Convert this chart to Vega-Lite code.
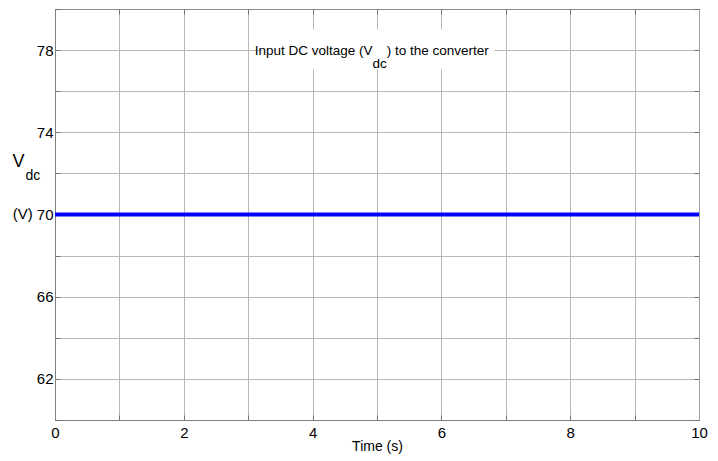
{
  "$schema": "https://vega.github.io/schema/vega-lite/v6.json",
  "width": 644,
  "height": 411,
  "autosize": {"type": "none"},
  "padding": {"left": 55, "top": 9, "right": 19, "bottom": 41},
  "background": "white",
  "config": {
    "view": {"stroke": "#8c8c8c", "strokeWidth": 1},
    "font": "Liberation Sans, Arial, sans-serif"
  },
  "datasets": {
    "vdc": [{"time": 0, "vdc": 70}, {"time": 10, "vdc": 70}],
    "box": [{"x1": 3.207, "x2": 6.824, "y1": 77.06, "y2": 79.0}],
    "titleMain": [{"x": 4.93, "y": 77.74, "label": "Input DC voltage (V"}],
    "titleSub": [{"x": 4.93, "y": 77.12, "label": "dc"}],
    "titleEnd": [{"x": 5.15, "y": 77.74, "label": ") to the converter"}],
    "yMain": [{"x": -0.66, "y": 72.3, "label": "V"}],
    "ySub": [{"x": -0.46, "y": 71.68, "label": "dc"}],
    "yUnit": [{"x": -0.5, "y": 69.76, "label": "(V)"}]
  },
  "layer": [
    {
      "data": {"name": "vdc"},
      "mark": {"type": "line", "color": "#0000ff", "strokeWidth": 4},
      "encoding": {
        "x": {
          "field": "time", "type": "quantitative",
          "scale": {"domain": [0, 10], "nice": false, "zero": false},
          "axis": {
            "orient": "bottom",
            "values": [0, 1, 2, 3, 4, 5, 6, 7, 8, 9, 10],
            "labelExpr": "datum.value % 2 === 0 ? datum.label : ''",
            "labelFlush": false,
            "labelOverlap": false,
            "grid": true, "gridColor": "#b8b8b8", "gridOpacity": 1,
            "tickSize": -5, "tickColor": "#707070",
            "domainColor": "#808080",
            "labelPadding": 10, "labelFontSize": 15, "labelColor": "#000000",
            "title": "Time (s)", "titleFontSize": 14, "titleFontWeight": "normal",
            "titleColor": "#000000", "titleBaseline": "alphabetic", "titleY": 30
          }
        },
        "y": {
          "field": "vdc", "type": "quantitative",
          "scale": {"domain": [60, 80], "nice": false, "zero": false},
          "axis": {
            "orient": "left",
            "values": [60, 62, 64, 66, 68, 70, 72, 74, 76, 78, 80],
            "labelExpr": "(datum.value - 62) % 4 === 0 ? datum.label : ''",
            "labelFlush": false,
            "labelOverlap": false,
            "grid": true, "gridColor": "#b8b8b8", "gridOpacity": 1,
            "tickSize": -5, "tickColor": "#707070",
            "domainColor": "#808080",
            "labelPadding": 7, "labelFontSize": 15, "labelColor": "#000000",
            "title": null
          }
        }
      }
    },
    {
      "data": {"name": "vdc"},
      "mark": {"type": "line", "opacity": 0},
      "encoding": {
        "x": {
          "field": "time", "type": "quantitative",
          "scale": {"domain": [0, 10], "nice": false, "zero": false},
          "axis": {
            "orient": "top",
            "values": [0, 1, 2, 3, 4, 5, 6, 7, 8, 9, 10],
            "labels": false, "grid": false,
            "tickSize": -5, "tickColor": "#707070",
            "domainColor": "#8c8c8c", "title": null
          }
        },
        "y": {
          "field": "vdc", "type": "quantitative",
          "scale": {"domain": [60, 80], "nice": false, "zero": false},
          "axis": {
            "orient": "right",
            "values": [60, 62, 64, 66, 68, 70, 72, 74, 76, 78, 80],
            "labels": false, "grid": false,
            "tickSize": -5, "tickColor": "#707070",
            "domainColor": "#a0a0a0", "title": null
          }
        }
      }
    },
    {
      "data": {"name": "box"},
      "mark": {"type": "rect", "fill": "white", "stroke": null},
      "encoding": {
        "x": {"field": "x1", "type": "quantitative", "scale": {"domain": [0, 10]}, "axis": null},
        "x2": {"field": "x2"},
        "y": {"field": "y1", "type": "quantitative", "scale": {"domain": [60, 80]}, "axis": null},
        "y2": {"field": "y2"}
      }
    },
    {
      "data": {"name": "titleMain"},
      "mark": {"type": "text", "align": "right", "baseline": "alphabetic", "fontSize": 13.5, "color": "#000000"},
      "encoding": {
        "x": {"field": "x", "type": "quantitative", "scale": {"domain": [0, 10]}, "axis": null},
        "y": {"field": "y", "type": "quantitative", "scale": {"domain": [60, 80]}, "axis": null},
        "text": {"field": "label"}
      }
    },
    {
      "data": {"name": "titleSub"},
      "mark": {"type": "text", "align": "left", "baseline": "alphabetic", "fontSize": 13.5, "color": "#000000"},
      "encoding": {
        "x": {"field": "x", "type": "quantitative", "scale": {"domain": [0, 10]}, "axis": null},
        "y": {"field": "y", "type": "quantitative", "scale": {"domain": [60, 80]}, "axis": null},
        "text": {"field": "label"}
      }
    },
    {
      "data": {"name": "titleEnd"},
      "mark": {"type": "text", "align": "left", "baseline": "alphabetic", "fontSize": 13.5, "color": "#000000"},
      "encoding": {
        "x": {"field": "x", "type": "quantitative", "scale": {"domain": [0, 10]}, "axis": null},
        "y": {"field": "y", "type": "quantitative", "scale": {"domain": [60, 80]}, "axis": null},
        "text": {"field": "label"}
      }
    },
    {
      "data": {"name": "yMain"},
      "mark": {"type": "text", "align": "left", "baseline": "alphabetic", "fontSize": 18, "color": "#000000"},
      "encoding": {
        "x": {"field": "x", "type": "quantitative", "scale": {"domain": [0, 10]}, "axis": null},
        "y": {"field": "y", "type": "quantitative", "scale": {"domain": [60, 80]}, "axis": null},
        "text": {"field": "label"}
      }
    },
    {
      "data": {"name": "ySub"},
      "mark": {"type": "text", "align": "left", "baseline": "alphabetic", "fontSize": 14, "color": "#000000"},
      "encoding": {
        "x": {"field": "x", "type": "quantitative", "scale": {"domain": [0, 10]}, "axis": null},
        "y": {"field": "y", "type": "quantitative", "scale": {"domain": [60, 80]}, "axis": null},
        "text": {"field": "label"}
      }
    },
    {
      "data": {"name": "yUnit"},
      "mark": {"type": "text", "align": "center", "baseline": "alphabetic", "fontSize": 15, "color": "#000000"},
      "encoding": {
        "x": {"field": "x", "type": "quantitative", "scale": {"domain": [0, 10]}, "axis": null},
        "y": {"field": "y", "type": "quantitative", "scale": {"domain": [60, 80]}, "axis": null},
        "text": {"field": "label"}
      }
    }
  ],
  "resolve": {"axis": {"x": "independent", "y": "independent"}}
}
